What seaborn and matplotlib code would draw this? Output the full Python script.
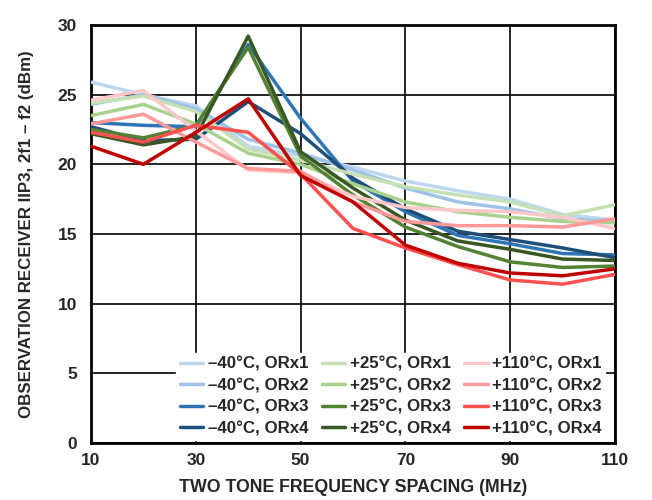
import numpy as np
import pandas as pd
import matplotlib
matplotlib.use("Agg")
import matplotlib.pyplot as plt
import seaborn as sns

freq = [10, 20, 30, 40, 50, 60, 70, 80, 90, 100, 110]

labels = ["–40°C, ORx1", "–40°C, ORx2", "–40°C, ORx3", "–40°C, ORx4",
          "+25°C, ORx1", "+25°C, ORx2", "+25°C, ORx3", "+25°C, ORx4",
          "+110°C, ORx1", "+110°C, ORx2", "+110°C, ORx3", "+110°C, ORx4"]

m40_orx1 = [25.9, 25.0, 24.2, 21.3, 20.6, 19.8, 18.8, 18.1, 17.5, 16.4, 16.0]
m40_orx2 = [24.3, 25.0, 24.0, 21.8, 20.8, 19.6, 18.3, 17.3, 16.8, 16.1, 15.9]
m40_orx3 = [23.0, 22.8, 22.7, 28.6, 23.3, 18.8, 16.6, 14.9, 14.3, 13.6, 13.5]
m40_orx4 = [22.7, 21.7, 21.8, 24.5, 22.2, 19.0, 16.8, 15.2, 14.6, 14.0, 13.3]
p25_orx1 = [24.4, 24.9, 23.8, 21.1, 20.3, 19.3, 18.4, 17.8, 17.3, 16.3, 17.1]
p25_orx2 = [23.5, 24.3, 22.9, 20.8, 20.0, 18.6, 17.3, 16.6, 16.2, 15.9, 15.8]
p25_orx3 = [22.5, 21.9, 22.8, 28.4, 20.6, 17.8, 15.5, 14.1, 13.0, 12.6, 12.7]
p25_orx4 = [22.2, 21.4, 22.0, 29.2, 20.9, 18.3, 16.0, 14.5, 13.9, 13.2, 13.1]
p110_orx1 = [24.6, 25.3, 22.4, 19.6, 19.4, 17.7, 16.9, 16.7, 16.6, 16.2, 15.4]
p110_orx2 = [22.9, 23.6, 21.6, 19.7, 19.5, 17.3, 15.9, 15.6, 15.6, 15.5, 16.1]
p110_orx3 = [22.3, 21.6, 22.8, 22.3, 19.3, 15.4, 14.0, 12.8, 11.7, 11.4, 12.1]
p110_orx4 = [21.3, 20.0, 22.3, 24.7, 19.2, 17.3, 14.2, 12.9, 12.2, 12.0, 12.5]

series = [m40_orx1, m40_orx2, m40_orx3, m40_orx4,
          p25_orx1, p25_orx2, p25_orx3, p25_orx4,
          p110_orx1, p110_orx2, p110_orx3, p110_orx4]

colors = ["#bdd7ee", "#9dc3e6", "#2e75b6", "#1f4e79",
          "#c5e0b4", "#a9d18e", "#548235", "#385723",
          "#ffc7c7", "#ff9999", "#ff5050", "#c00000"]

rows = []
for lab, vals in zip(labels, series):
    for f, v in zip(freq, vals):
        rows.append({"freq": f, "iip3": v, "series": lab})
df = pd.DataFrame(rows)

sns.set_style("white")
plt.rcParams['font.family'] = ['Liberation Sans', 'DejaVu Sans']
plt.rcParams['font.weight'] = 'bold'

fig = plt.figure(figsize=(6.52, 5.0), dpi=100)
ax = fig.add_axes([91/652, 57/500, 524/652, 418/500])

sns.lineplot(data=df, x="freq", y="iip3", hue="series", hue_order=labels,
             palette=dict(zip(labels, colors)), linewidth=2.5, ax=ax,
             legend=True, zorder=3)

ax.set_xlim(10, 110)
ax.set_ylim(0, 30)
ax.set_xticks([10, 30, 50, 70, 90, 110])
ax.set_yticks([0, 5, 10, 15, 20, 25, 30])
ax.grid(True, color="black", linewidth=1.2, zorder=1)
ax.set_axisbelow(True)
for s in ax.spines.values():
    s.set_color("black")
    s.set_linewidth(2.0)
ax.tick_params(axis="both", labelsize=12.5, length=0)
ax.tick_params(axis="x", pad=7)
ax.tick_params(axis="y", pad=10)
for t in ax.get_xticklabels() + ax.get_yticklabels():
    t.set_fontweight("bold")

ax.set_xlabel("TWO TONE FREQUENCY SPACING (MHz)", fontsize=12.8, fontweight="bold", labelpad=8)
ax.set_ylabel("OBSERVATION RECEIVER IIP3, 2f1 – f2 (dBm)", fontsize=12.2, fontweight="bold", labelpad=17)

handles, labs = ax.get_legend_handles_labels()
leg = ax.legend(handles, labs, ncol=3, loc="lower right", bbox_to_anchor=(0.997, -0.012),
                frameon=True, fancybox=False, framealpha=1.0, edgecolor="white",
                handlelength=1.4, handletextpad=0.25, columnspacing=0.8,
                labelspacing=0.38, borderpad=0.2, prop={"weight": "bold", "size": 12.2})
leg.set_zorder(5)
for line in leg.get_lines():
    line.set_linewidth(2.5)

fig.savefig("out.png", dpi=100)
